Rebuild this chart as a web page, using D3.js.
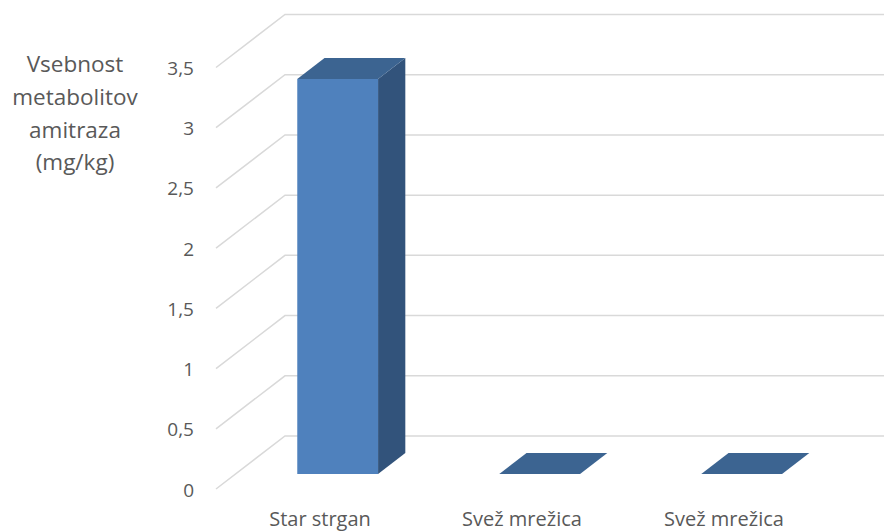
<!DOCTYPE html>
<html><head><meta charset="utf-8">
<script src="https://cdn.jsdelivr.net/npm/d3@7"></script>
<style>body{margin:0;background:#fff}svg{display:block}text{font-family:"Open Sans",Lato,sans-serif;fill:#595959}</style>
</head><body><svg id="c" width="884" height="532"></svg>
<script>
const categories = ["Star strgan", "Svež mrežica", "Svež mrežica"];
const values = [3.28, 0, 0];
const yTicks = [0, 0.5, 1, 1.5, 2, 2.5, 3, 3.5];
const yTitle = ["Vsebnost", "metabolitov", "amitraza", "(mg/kg)"];

const svg = d3.select("#c");
const W = 884, H = 532;
const depth = {dx: 69, dy: -53};
const x = d3.scaleBand().domain(d3.range(categories.length)).range([217, 823]).padding(0);
const y = d3.scaleLinear().domain([0, 3.5]).range([489, 67.5]);
const loc = d3.formatLocale({decimal: ",", thousands: ".", grouping: [3], currency: ["", "€"]});
const fmt = loc.format("~g");

// gridlines
const g = svg.append("g");
yTicks.forEach(t => {
  const yf = y(t);
  g.append("path")
    .attr("d", `M${x.range()[0]-1},${yf}L${x.range()[0]-1+depth.dx},${yf+depth.dy}L${W+5},${yf+depth.dy}`)
    .attr("fill", "none").attr("stroke", "#d9d9d9").attr("stroke-width", 1.5);
  svg.append("text").attr("x", 194).attr("y", yf + 7.5)
    .attr("text-anchor", "end").attr("font-size", 19).text(fmt(t));
});

// bars
const f0 = 0.285, f1 = 0.68;
const bw = x.bandwidth() * 0.4;
const bars = svg.append("g");
values.forEach((v, i) => {
  const cx = x(i) + x.bandwidth() / 2 + f0 * depth.dx;
  const x0 = cx - bw / 2, x1 = cx + bw / 2;
  const yb = y(0) + f0 * depth.dy, yt = y(v) + f0 * depth.dy;
  const ddx = (f1 - f0) * depth.dx, ddy = (f1 - f0) * depth.dy;
  if (v > 0) {
    bars.append("path").attr("d", `M${x1},${yb}L${x1+ddx},${yb+ddy}L${x1+ddx},${yt+ddy}L${x1},${yt}Z`).attr("fill", "#32537b");
    bars.append("path").attr("d", `M${x0},${yb}L${x1},${yb}L${x1},${yt}L${x0},${yt}Z`).attr("fill", "#4f81bd");
  }
  bars.append("path").attr("d", `M${x0},${yt}L${x1},${yt}L${x1+ddx},${yt+ddy}L${x0+ddx},${yt+ddy}Z`).attr("fill", "#3c6491");
});

// category labels
categories.forEach((c, i) => {
  svg.append("text").attr("x", x(i) + x.bandwidth() / 2 + 2).attr("y", 526)
    .attr("text-anchor", "middle").attr("font-size", 20).text(c);
});

// y title
const tt = svg.append("text").attr("text-anchor", "middle").attr("font-size", 22.5);
yTitle.forEach((l, i) => {
  tt.append("tspan").attr("x", 75).attr("y", 72 + i * 32.8).text(l);
});
</script></body></html>
